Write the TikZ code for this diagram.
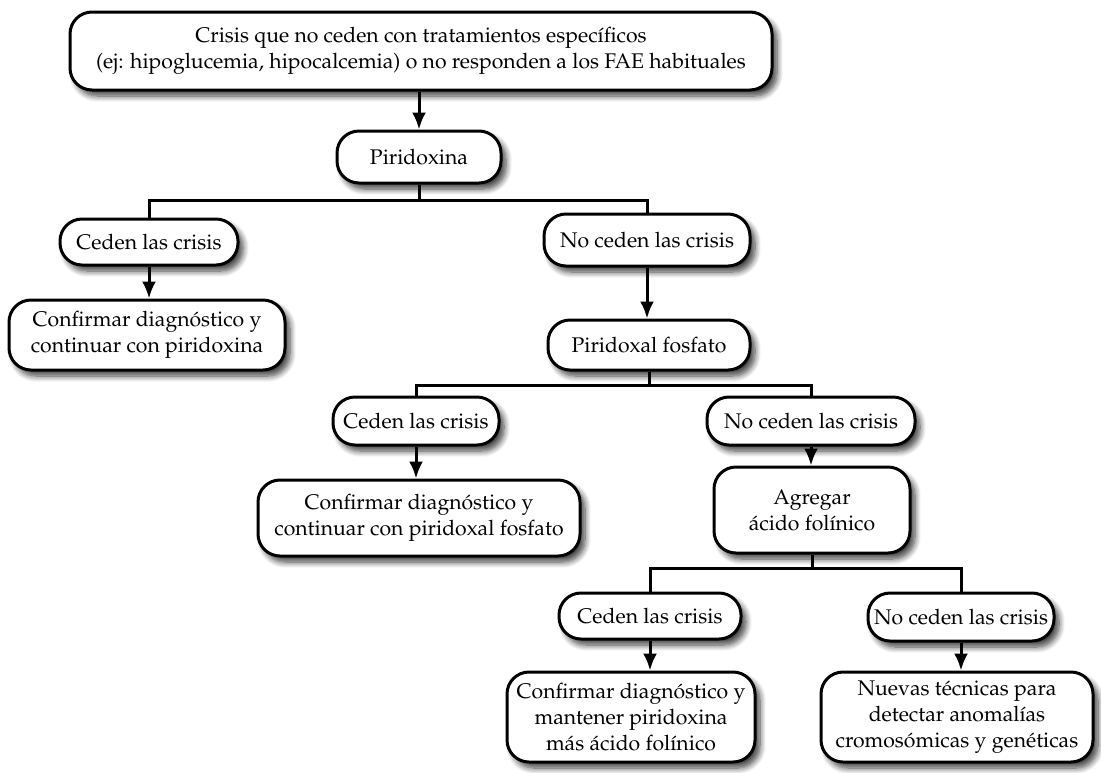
\documentclass[tikz,border=0pt]{standalone}
\usepackage[T1]{fontenc}
\usepackage{mathpazo}
\usetikzlibrary{arrows.meta,shadows.blur}

\tikzset{
  caja/.style={draw,line width=1.5pt,rounded corners=11pt,fill=white,align=center,inner sep=2pt,
    blur shadow={shadow xshift=2.5pt,shadow yshift=-3pt,shadow blur steps=8,shadow blur radius=3pt,shadow opacity=75}},
  linea/.style={line width=1.5pt},
  flecha/.style={line width=1.5pt,-{Latex[length=8.5pt,width=7pt]}}
}

\begin{document}
\begin{tikzpicture}[x=0.5pt,y=-0.5pt,font=\fontsize{10.6}{13}\selectfont]

\useasboundingbox (0,0) rectangle (1101,772);

\node [caja,minimum width=351pt,minimum height=39pt] (crisis) at (421,51)
  {Crisis que no ceden con tratamientos espec\'ificos\\(ej: hipoglucemia, hipocalcemia) o no responden a los FAE habituales};
\node [caja,minimum width=82pt,minimum height=26pt] (pirid) at (419,157) {Piridoxina};

\node [caja,minimum width=89pt,minimum height=23pt] (ced1) at (149,242) {Ceden las crisis};
\node [caja,minimum width=103pt,minimum height=26pt] (noced1) at (647,240) {No ceden las crisis};
\node [caja,minimum width=138pt,minimum height=35pt] (conf1) at (147,335)
  {Confirmar diagn\'ostico y\\continuar con piridoxina};
\node [caja,minimum width=101pt,minimum height=25pt] (pfosf) at (649,345) {Piridoxal fosfato};

\node [caja,minimum width=83pt,minimum height=24pt] (ced2) at (416,421) {Ceden las crisis};
\node [caja,minimum width=104pt,minimum height=24pt] (noced2) at (811,421) {No ceden las crisis};
\node [caja,minimum width=161pt,minimum height=38pt] (conf2) at (419,518)
  {Confirmar diagn\'ostico y\\continuar con piridoxal fosfato};
\node [caja,minimum width=98pt,minimum height=43pt] (agreg) at (812,510)
  {Agregar\\\'acido fol\'inico};

\node [caja,minimum width=91pt,minimum height=23pt] (ced3) at (650,616) {Ceden las crisis};
\node [caja,minimum width=93pt,minimum height=24pt] (noced3) at (961,617) {No ceden las crisis};
\node [caja,minimum width=124pt,minimum height=45pt] (conf3) at (631,717)
  {Confirmar diagn\'ostico y\\mantener piridoxina\\m\'as \'acido fol\'inico};
\node [caja,minimum width=136pt,minimum height=45pt] (nuevas) at (957,717)
  {Nuevas t\'ecnicas para\\detectar anomal\'ias\\cromos\'omicas y gen\'eticas};

\coordinate (r1) at (419,200);
\coordinate (r2) at (649,385);
\coordinate (r3) at (812,568);

\draw [flecha] (crisis.south -| pirid.north) -- (pirid.north);
\draw [linea] (pirid.south) -- (r1) -| (ced1.north);
\draw [linea] (r1) -| (noced1.north);
\draw [flecha] (ced1.south) -- (ced1.south |- conf1.north);
\draw [flecha] (noced1.south) -- (noced1.south |- pfosf.north);

\draw [linea] (pfosf.south) -- (r2) -| (ced2.north);
\draw [linea] (r2) -| (noced2.north);
\draw [flecha] (ced2.south) -- (ced2.south |- conf2.north);
\draw [flecha] (noced2.south) -- (noced2.south |- agreg.north);

\draw [linea] (agreg.south) -- (r3) -| (ced3.north);
\draw [linea] (r3) -| (noced3.north);
\draw [flecha] (ced3.south) -- (ced3.south |- conf3.north);
\draw [flecha] (noced3.south) -- (noced3.south |- nuevas.north);

\end{tikzpicture}
\end{document}
